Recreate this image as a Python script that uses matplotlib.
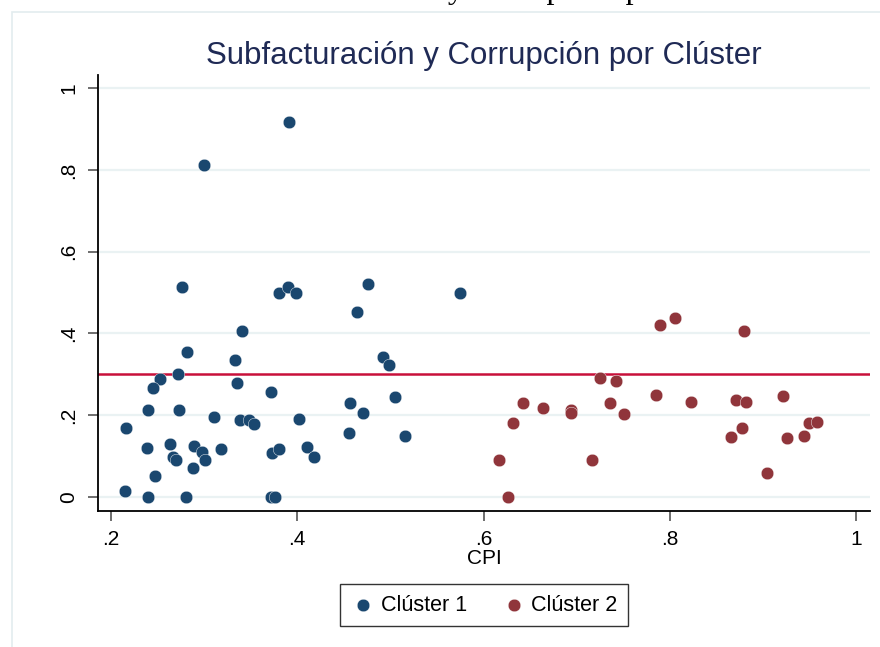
import numpy as np
import matplotlib
matplotlib.use("Agg")
import matplotlib.pyplot as plt
from matplotlib.patches import Rectangle

# Cluster 1 (CPI, subfacturacion)
c1_x = [0.276, 0.380, 0.390, 0.399, 0.341, 0.282, 0.333, 0.272, 0.253, 0.245,
        0.335, 0.372, 0.240, 0.273, 0.216, 0.311, 0.338, 0.348, 0.353, 0.402,
        0.239, 0.263, 0.267, 0.270, 0.289, 0.298, 0.301, 0.318, 0.288, 0.247,
        0.215, 0.240, 0.280, 0.372, 0.376, 0.373, 0.380,
        0.476, 0.464, 0.575, 0.492, 0.498, 0.457, 0.471, 0.505, 0.455, 0.516,
        0.410, 0.418, 0.391, 0.300]
c1_y = [0.513, 0.499, 0.513, 0.500, 0.407, 0.354, 0.334, 0.301, 0.289, 0.266,
        0.278, 0.257, 0.212, 0.212, 0.169, 0.196, 0.188, 0.188, 0.179, 0.191,
        0.121, 0.129, 0.098, 0.090, 0.125, 0.111, 0.091, 0.117, 0.072, 0.051,
        0.016, 0.000, 0.000, 0.000, 0.000, 0.108, 0.118,
        0.522, 0.452, 0.500, 0.342, 0.323, 0.231, 0.206, 0.244, 0.156, 0.149,
        0.123, 0.098, 0.917, 0.812]

# Cluster 2
c2_x = [0.725, 0.742, 0.642, 0.664, 0.694, 0.694, 0.736, 0.751, 0.632, 0.617,
        0.717, 0.626, 0.789, 0.806, 0.880, 0.785, 0.823, 0.871, 0.882, 0.922,
        0.878, 0.866, 0.926, 0.944, 0.950, 0.958, 0.904]
c2_y = [0.291, 0.285, 0.231, 0.219, 0.213, 0.205, 0.230, 0.202, 0.180, 0.091,
        0.091, 0.000, 0.420, 0.437, 0.405, 0.249, 0.232, 0.238, 0.232, 0.246,
        0.169, 0.147, 0.145, 0.150, 0.181, 0.184, 0.060]

threshold = 0.3
xticks = [0.2, 0.4, 0.6, 0.8, 1.0]
xlabels = [".2", ".4", ".6", ".8", "1"]
yticks = [0, 0.2, 0.4, 0.6, 0.8, 1.0]
ylabels = ["0", ".2", ".4", ".6", ".8", "1"]

W, H = 880, 647
fig = plt.figure(figsize=(W / 100, H / 100), dpi=100)
fig.patch.set_facecolor("white")

# graph region outline (cropped page)
fig.patches.append(Rectangle((12 / W, -0.1), 1.2, 1.1 - 12 / H,
                             transform=fig.transFigure, fill=False,
                             edgecolor="#e3ecef", linewidth=1.2))

# caption of the page above, mostly cropped away
fig.text(246 / W, 1.0 + 2 / H, "Subfacturación y Corrupción por Clúster",
         ha="left", va="baseline", family="Liberation Serif", fontsize=23,
         color="black")

ax = fig.add_axes([98 / W, 1 - 511 / H, (870 - 98) / W, (511 - 75) / H])
ax.set_xlim(0.186, 1.015)
ax.set_ylim(-0.034, 1.032)

for y in yticks:
    ax.axhline(y, color="#eaf2f3", linewidth=1.6, zorder=0)

ax.axhline(threshold, color="#c8103a", linewidth=1.8, zorder=1)

ax.scatter(c1_x, c1_y, s=82, color="#1a476f", edgecolors="white",
           linewidths=0.3, zorder=3, label="Clúster 1")
ax.scatter(c2_x, c2_y, s=82, color="#90353b", edgecolors="white",
           linewidths=0.3, zorder=3, label="Clúster 2")

for s in ["top", "right"]:
    ax.spines[s].set_visible(False)
for s in ["left", "bottom"]:
    ax.spines[s].set_linewidth(1.3)
    ax.spines[s].set_color("black")

fnt = "Liberation Sans"
ax.set_xticks(xticks)
ax.set_xticklabels(xlabels, family=fnt, fontsize=15)
ax.set_yticks(yticks)
ax.set_yticklabels(ylabels, family=fnt, fontsize=15, rotation=90, va="center")
ax.tick_params(axis="both", length=7, width=1.2, color="#555555", pad=7)

ax.set_xlabel("CPI", family=fnt, fontsize=15, labelpad=0)
ax.set_title("Subfacturación y Corrupción por Clúster", family=fnt,
             fontsize=22.5, color="#1f2a55", pad=8)

leg = ax.legend(loc="upper center", bbox_to_anchor=(0.5, -0.167), ncol=2,
                frameon=True, fancybox=False, edgecolor="black",
                prop={"family": fnt, "size": 15.5}, handletextpad=0.2,
                columnspacing=1.6, borderpad=0.5, borderaxespad=0,
                handlelength=1.2, markerscale=1.0)
leg.get_frame().set_linewidth(1.0)

fig.savefig("out.png", dpi=100)
